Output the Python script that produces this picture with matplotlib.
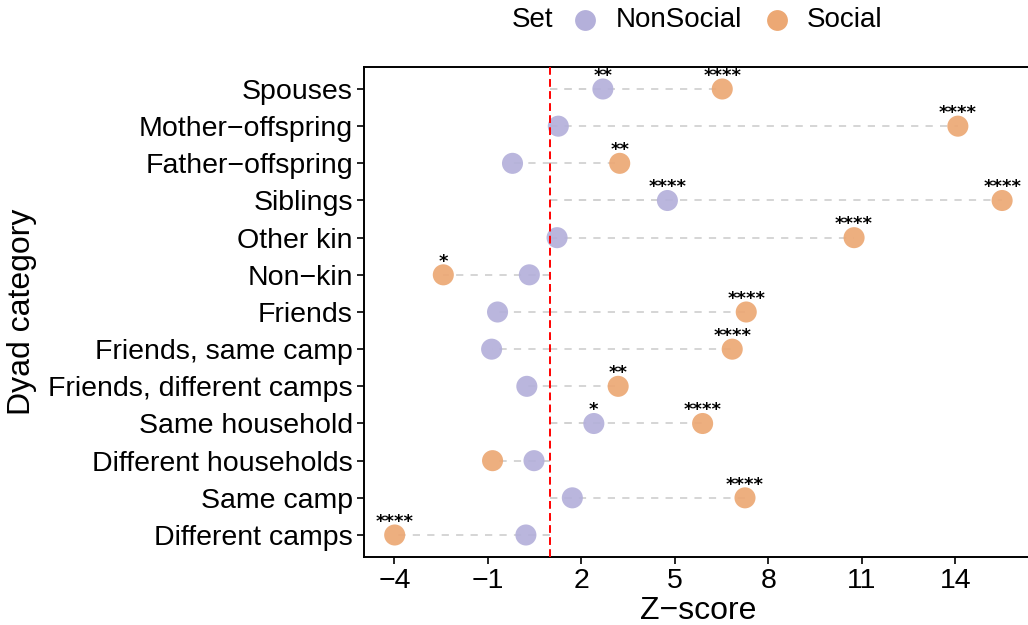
import matplotlib
matplotlib.use('Agg')
import matplotlib.pyplot as plt
from matplotlib.lines import Line2D
import numpy as np

plt.rcParams['font.family'] = ['Liberation Sans', 'DejaVu Sans']

# dyad categories, top to bottom
categories = ['Spouses', 'Mother\u2212offspring', 'Father\u2212offspring',
              'Siblings', 'Other kin', 'Non\u2212kin', 'Friends',
              'Friends, same camp', 'Friends, different camps',
              'Same household', 'Different households', 'Same camp',
              'Different camps']
# z-scores
nonsocial = [2.69, 1.26, -0.21, 4.76, 1.22, 0.33, -0.69,
             -0.88, 0.25, 2.40, 0.48, 1.71, 0.22]
social = [6.52, 14.08, 3.23, 15.5, 10.75, -2.43, 7.29,
          6.84, 3.18, 5.89, -0.85, 7.25, -3.99]
nonsocial_sig = ['**', '', '', '****', '', '', '', '', '', '*', '', '', '']
social_sig = ['****', '****', '**', '****', '****', '*', '****', '****',
              '**', '****', '', '****', '****']
threshold = 1.0
xticks = [-4, -1, 2, 5, 8, 11, 14]

col_non = '#b4b0da'
col_soc = '#eca874'

W, H = 1028, 625
fig = plt.figure(figsize=(W / 100, H / 100), dpi=100)
ax = fig.add_axes([364 / W, (H - 557.3) / H, 668.5 / W, 490.6 / H])

y = np.arange(len(categories))
for i in y:
    for val in (nonsocial[i], social[i]):
        ax.plot([threshold, val], [i, i], color='#d2d2d2', lw=1.3,
                ls=(0, (4, 4)), zorder=1, solid_capstyle='butt')

ax.scatter(nonsocial, y, s=230, color=col_non, edgecolors='none',
           alpha=0.92, zorder=2)
ax.scatter(social, y, s=230, color=col_soc, edgecolors='none',
           alpha=0.92, zorder=2)
ax.axvline(threshold, color='red', lw=1.4, ls=(0, (4, 2.2)), zorder=3)

# significance stars above the points
for vals, sigs in ((nonsocial, nonsocial_sig), (social, social_sig)):
    for i, (v, s) in enumerate(zip(vals, sigs)):
        if s:
            ax.annotate(s, (v, i), xytext=(0, 9.5), textcoords='offset points',
                        ha='center', va='center', fontsize=13,
                        fontweight='bold', family='DejaVu Sans', zorder=4)

ax.set_xlim(-4.975, 16.475)
ax.set_ylim(len(categories) - 0.4, -0.6)
ax.set_xticks(xticks)
ax.set_yticks(y)
ax.set_yticklabels(categories)
ax.tick_params(axis='both', labelsize=20.5, length=5, width=1.2,
               colors='black', pad=3)
for side in ('top', 'left', 'bottom'):
    ax.spines[side].set_linewidth(1.4)
    ax.spines[side].set_color('black')
ax.spines['right'].set_visible(False)

ax.set_xlabel('Z\u2212score', fontsize=23)
ax.set_ylabel('Dyad category', fontsize=23)
ax.xaxis.set_label_coords(0.5, -0.078)
ax.yaxis.set_label_coords(-0.489, 0.5)

# legend along the top
ly = 1 - 20 / H
fig.text(512 / W, ly, 'Set', fontsize=20, va='center', ha='left')
fig.add_artist(Line2D([585 / W], [ly], marker='o', ms=15, color=col_non,
                      mec='none', transform=fig.transFigure))
fig.text(616 / W, ly, 'NonSocial', fontsize=20, va='center', ha='left')
fig.add_artist(Line2D([777 / W], [ly], marker='o', ms=15, color=col_soc,
                      mec='none', transform=fig.transFigure))
fig.text(807 / W, ly, 'Social', fontsize=20, va='center', ha='left')

fig.savefig('out.png', dpi=100)
